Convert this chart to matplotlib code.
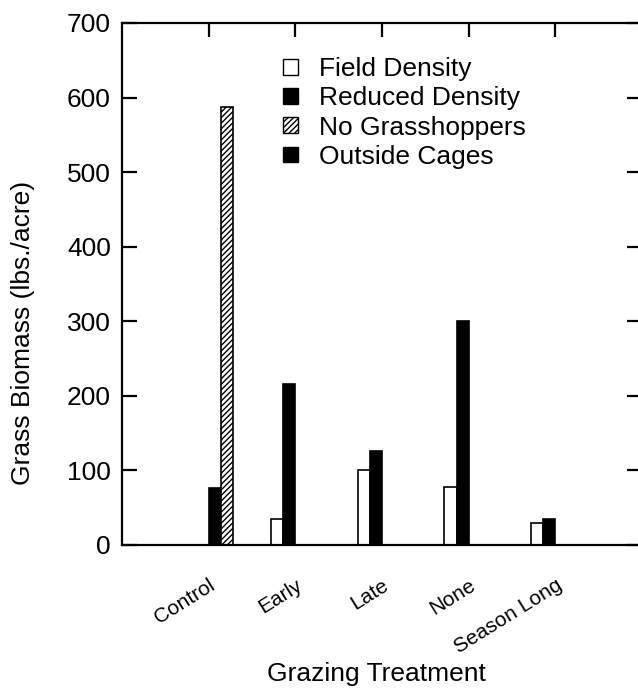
import matplotlib.pyplot as plt
import matplotlib.patches as mpatches
import numpy as np

plt.rcParams['font.family'] = ['Liberation Sans', 'DejaVu Sans']
plt.rcParams['hatch.linewidth'] = 1.0

# data
categories = ['Control', 'Early', 'Late', 'None', 'Season Long']
field_density = [np.nan, 35, 100, 78, 30]
reduced_density = [np.nan, 216, 126, 300, 35]
outside_cages = [76, np.nan, np.nan, np.nan, np.nan]
no_grasshoppers = [588, np.nan, np.nan, np.nan, np.nan]
yticks = [0, 100, 200, 300, 400, 500, 600, 700]

fig = plt.figure(figsize=(6.38, 6.92), dpi=100)
ax = fig.add_axes([122 / 638, 147 / 692, 520 / 638, 522 / 692])

x = np.arange(1, len(categories) + 1)
w = 0.14

ax.bar(x - 1.5 * w, field_density, w, facecolor='white', edgecolor='black', linewidth=1.2)
ax.bar(x - 0.5 * w, reduced_density, w, facecolor='black', edgecolor='black', linewidth=1.2)
ax.bar(x + 0.5 * w, outside_cages, w, facecolor='black', edgecolor='black', linewidth=1.2)
ax.bar(x + 1.5 * w, no_grasshoppers, w, facecolor='white', edgecolor='black',
       hatch='//////', linewidth=1.2)

ax.set_xlim(0, 6)
ax.set_ylim(0, 700)
ax.set_yticks(yticks)
ax.set_xticks(x)
ax.set_xticklabels(categories, rotation=32, ha='right', rotation_mode='anchor', fontsize=15)

for s in ax.spines.values():
    s.set_linewidth(1.6)

ax.tick_params(axis='y', direction='in', length=11, width=1.6, labelsize=19,
               right=True, pad=8)
ax.tick_params(axis='x', direction='in', length=10, width=1.6, bottom=False,
               top=True, labelbottom=True, pad=22)

# legend
handles = [
    mpatches.Patch(facecolor='white', edgecolor='black', linewidth=1.0, label='Field Density'),
    mpatches.Patch(facecolor='black', edgecolor='black', label='Reduced Density'),
    mpatches.Patch(facecolor='white', edgecolor='black', hatch='//////', linewidth=1.0,
                   label='No Grasshoppers'),
    mpatches.Patch(facecolor='black', edgecolor='black', label='Outside Cages'),
]
ax.legend(handles=handles, loc='upper left', bbox_to_anchor=(0.29, 0.955), frameon=False,
          fontsize=19, handlelength=0.55, handleheight=0.55, handletextpad=0.8,
          labelspacing=0.2, borderaxespad=0)

fig.text(23 / 638, 1 - 333 / 692, 'Grass Biomass (lbs./acre)', rotation=90,
         ha='center', va='center', fontsize=19)
fig.text(376 / 638, 1 - 674 / 692, 'Grazing Treatment', ha='center', va='center', fontsize=19)

fig.savefig('out.png', dpi=100, facecolor='white')
